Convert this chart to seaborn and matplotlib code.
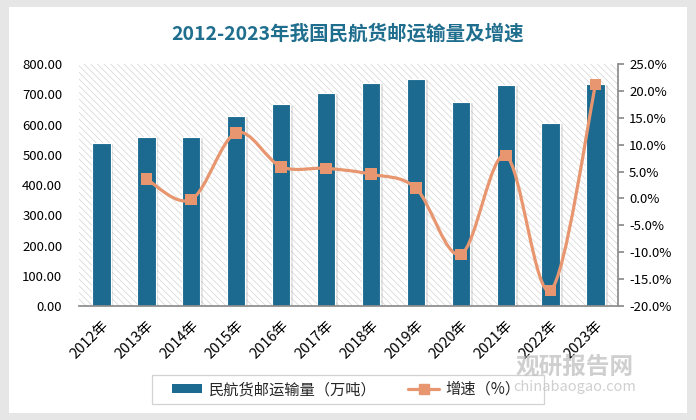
import numpy as np
import matplotlib
matplotlib.use("Agg")
import matplotlib.pyplot as plt
import matplotlib.patheffects as pe
import seaborn as sns
from matplotlib.patches import Rectangle, PathPatch
from matplotlib.path import Path
from matplotlib.lines import Line2D
from matplotlib.ticker import FuncFormatter

# data
years = ["2012年", "2013年", "2014年", "2015年", "2016年", "2017年",
         "2018年", "2019年", "2020年", "2021年", "2022年", "2023年"]
volume = [540, 560, 560, 629, 667, 705, 738, 751, 675, 732, 606, 735]  # 万吨
growth = [None, 3.6, -0.2, 12.2, 5.9, 5.6, 4.5, 1.9, -10.4, 8.0, -17.1, 21.2]  # %

bar_color = "#1c6a8f"
line_color = "#e8966f"

sns.set_theme(style="white")
plt.rcParams["font.family"] = ["Noto Sans CJK SC", "DejaVu Sans"]
plt.rcParams["hatch.linewidth"] = 0.5
plt.rcParams["hatch.color"] = "#d4d4d4"

fig = plt.figure(figsize=(6.96, 4.2), dpi=100, facecolor="#e6e6e6")
# white card with grey frame around it
fig.patches.append(Rectangle((9 / 696, 7 / 420), 678 / 696, 406 / 420,
                             transform=fig.transFigure, facecolor="white",
                             edgecolor="none", zorder=-1))

ax = fig.add_axes([79 / 696, 114 / 420, 539 / 696, 242 / 420])
ax.patch.set_facecolor("white")
ax.patch.set_hatch("\\\\\\\\\\")
ax.patch.set_edgecolor("#d4d4d4")

sns.barplot(x=years, y=volume, ax=ax, color=bar_color, width=0.41,
            saturation=1, edgecolor="white", linewidth=0.8, zorder=2)
for bar in ax.patches:
    bar.set_path_effects([pe.SimplePatchShadow(offset=(2, -1), shadow_rgbFace="#9a9a9a", alpha=0.25),
                          pe.Normal()])

ax.set_ylim(0, 800)
ax.set_yticks(np.arange(0, 801, 100))
ax.yaxis.set_major_formatter(FuncFormatter(lambda v, p: f"{v:.2f}"))
ax.set_xlim(-0.5, len(years) - 0.5)
ax.set_xlabel("")
ax.set_ylabel("")
for s in ["top", "left", "right"]:
    ax.spines[s].set_visible(False)
ax.spines["bottom"].set_color("#8c8c8c")
ax.tick_params(axis="y", length=0, labelsize=9.5, colors="black", pad=12)
ax.tick_params(axis="x", length=0, labelsize=10.5, colors="black", pad=9)
for lab in ax.get_xticklabels():
    lab.set_rotation(45)
    lab.set_ha("right")
    lab.set_rotation_mode("anchor")

# growth rate on the right axis
ax2 = ax.twinx()
ax2.set_ylim(-20, 25)
ax2.set_yticks(np.arange(-20, 26, 5))
ax2.yaxis.set_major_formatter(FuncFormatter(lambda v, p: f"{v:.1f}%"))
for s in ["top", "left", "bottom"]:
    ax2.spines[s].set_visible(False)
ax2.spines["right"].set_color("#8c8c8c")
ax2.tick_params(axis="y", direction="out", length=4, color="#8c8c8c",
                labelsize=9.5, labelcolor="black", pad=4)

gx = np.array([i for i, g in enumerate(growth) if g is not None], dtype=float)
gy = np.array([g for g in growth if g is not None], dtype=float)

# smoothed line (catmull-rom style bezier through the points)
pts = np.column_stack([gx, gy])
ext = np.vstack([pts[0], pts, pts[-1]])
verts = [tuple(pts[0])]
codes = [Path.MOVETO]
for i in range(len(pts) - 1):
    p0, p1, p2, p3 = ext[i], ext[i + 1], ext[i + 2], ext[i + 3]
    c1 = p1 + (p2 - p0) / 6
    c2 = p2 - (p3 - p1) / 6
    verts += [tuple(c1), tuple(c2), tuple(p2)]
    codes += [Path.CURVE4] * 3
ax2.add_patch(PathPatch(Path(verts, codes), facecolor="none",
                        edgecolor=line_color, linewidth=2.3, zorder=3))
sns.scatterplot(x=gx, y=gy, ax=ax2, marker="s", s=70, color=line_color,
                edgecolor="none", zorder=4, legend=False)

fig.text(0.5, 0.921, "2012-2023年我国民航货邮运输量及增速", ha="center", va="center",
         fontsize=14, fontweight="bold", color="#1f6e8e")

# legend, with its own frame drawn as a box
fig.patches.append(Rectangle((152 / 696, 16 / 420), 392 / 696, 29 / 420,
                             transform=fig.transFigure, facecolor="white",
                             edgecolor="#d2d2d2", linewidth=0.9, zorder=1))
handles = [Rectangle((0, 0), 1, 1, facecolor=bar_color, edgecolor="none"),
           Line2D([], [], color=line_color, lw=2.3, marker="s", markersize=7)]
leg = fig.legend(handles, ["民航货邮运输量（万吨）", "增速（%）"], loc="center",
                 bbox_to_anchor=(346 / 696, 30.5 / 420), ncol=2, fontsize=11,
                 frameon=False, handlelength=2.0, handleheight=0.45,
                 handletextpad=0.4, columnspacing=2.1)
leg.set_zorder(2)

# watermark
fig.text(0.825, 0.128, "观研报告网", ha="center", va="center", fontsize=17,
         fontweight="bold", color="#c4c4c4", alpha=0.8)
fig.text(0.825, 0.079, "chinabaogao.com", ha="center", va="center", fontsize=10.5,
         color="#c4c4c4", alpha=0.8)

fig.savefig("out.png", dpi=100, facecolor=fig.get_facecolor())
